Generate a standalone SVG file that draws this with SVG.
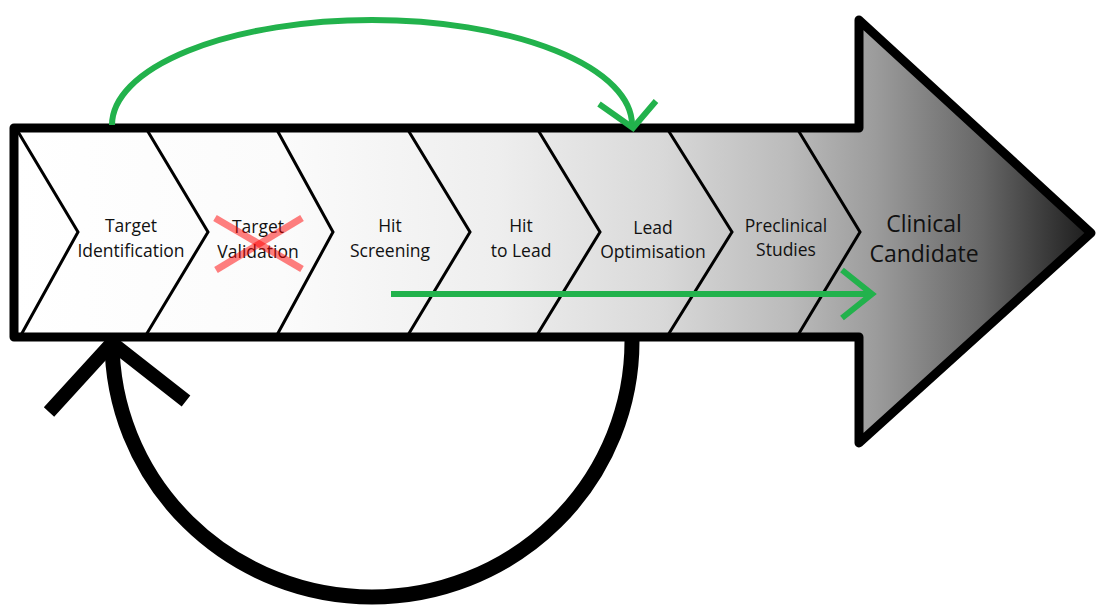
<svg xmlns="http://www.w3.org/2000/svg" width="1097" height="606" viewBox="0 0 1097 606">
<defs>
<linearGradient id="g" gradientUnits="userSpaceOnUse" x1="14" y1="0" x2="1090" y2="0">
<stop offset="0" stop-color="#ffffff"/>
<stop offset="0.25" stop-color="#fbfbfb"/>
<stop offset="0.45" stop-color="#eeeeee"/>
<stop offset="0.6" stop-color="#d9d9d9"/>
<stop offset="0.72" stop-color="#bbbbbb"/>
<stop offset="0.8" stop-color="#9c9c9c"/>
<stop offset="0.9" stop-color="#676767"/>
<stop offset="1" stop-color="#1c1c1c"/>
</linearGradient>
<style>
.lbl{font-family:"Open Sans","Liberation Sans",sans-serif;font-size:17.5px;fill:#111;text-anchor:middle}
.big{font-family:"Open Sans","Liberation Sans",sans-serif;font-size:23px;fill:#111;text-anchor:middle}
.chev{fill:none;stroke:#000;stroke-width:3}
.green{fill:none;stroke:#22b24c;stroke-width:6}
</style>
</defs>
<g id="big-arrow">
<path d="M14,128 L859,128 L859,20 L1091,233 L859,443 L859,337 L14,337 Z" fill="url(#g)"/>
</g>
<g id="dividers">
<polyline class="chev" points="17,130 78,232 21,335"/>
<polyline class="chev" points="147,130 208,232 146,335"/>
<polyline class="chev" points="277,130 333,232 277,335"/>
<polyline class="chev" points="408,130 470,232 408,335"/>
<polyline class="chev" points="538,130 600,232 537,335"/>
<polyline class="chev" points="668,130 732,232 668,335"/>
<polyline class="chev" points="798,130 860,232 798,335"/>
</g>
<g id="outline">
<path d="M14,128 L859,128 L859,20 L1091,233 L859,443 L859,337 L14,337 Z" fill="none" stroke="#000" stroke-width="9" stroke-linejoin="round"/>
</g>
<g id="target-identification">
<text class="lbl" x="131" y="232">Target</text>
<text class="lbl" x="131" y="257">Identification</text>
</g>
<g id="target-validation">
<text class="lbl" x="258" y="233">Target</text>
<text class="lbl" x="258" y="258">Validation</text>
<g stroke="#ff0000" stroke-opacity="0.5" stroke-width="7">
<line x1="215" y1="218" x2="302" y2="269"/>
<line x1="302" y1="218" x2="216" y2="270"/>
</g>
</g>
<g id="hit-screening">
<text class="lbl" x="390" y="232">Hit</text>
<text class="lbl" x="390" y="257">Screening</text>
</g>
<g id="hit-to-lead">
<text class="lbl" x="521" y="232">Hit</text>
<text class="lbl" x="521" y="257">to Lead</text>
</g>
<g id="lead-optimisation">
<text class="lbl" x="653" y="234">Lead</text>
<text class="lbl" x="653" y="258">Optimisation</text>
</g>
<g id="preclinical-studies">
<text class="lbl" x="786" y="232">Preclinical</text>
<text class="lbl" x="786" y="256">Studies</text>
</g>
<g id="clinical-candidate">
<text class="big" x="924" y="232">Clinical</text>
<text class="big" x="924" y="262">Candidate</text>
</g>
<g id="connectors">
<path class="green" d="M112,125 A260,105 0 0 1 632,125"/>
<polyline class="green" points="599,104 633,128 656,101" stroke-linejoin="miter"/>
<line class="green" x1="391" y1="294" x2="872" y2="294"/>
<polyline class="green" points="842,270 872,294 842,318" stroke-linejoin="miter"/>
<path d="M632,341 A260,256 0 0 1 112,341" fill="none" stroke="#000" stroke-width="15"/>
<polyline points="49,412 112,343 186,401" fill="none" stroke="#000" stroke-width="14" stroke-linejoin="miter"/>
</g>
</svg>
